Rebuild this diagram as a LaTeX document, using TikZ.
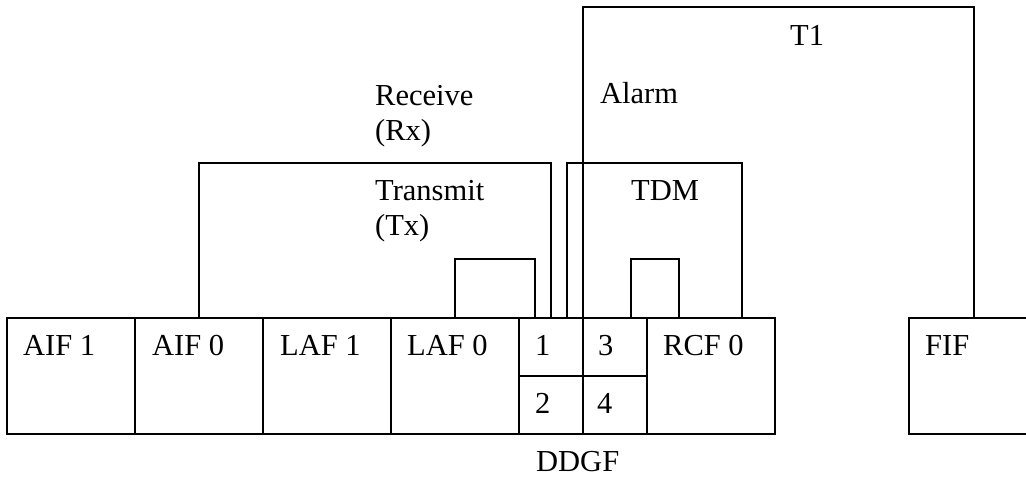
\documentclass[tikz,border=0pt]{standalone}
\usepackage{fontspec}
\setmainfont{Liberation Serif}
\begin{document}
\begin{tikzpicture}[x=1pt,y=-1pt,
  cell/.style={draw, line width=2.2pt, inner sep=0pt, outer sep=0pt, minimum width=128pt, minimum height=116pt},
  small/.style={draw, line width=2.2pt, inner sep=0pt, outer sep=0pt, minimum width=64pt, minimum height=58pt},
  wire/.style={line width=2.2pt},
  lbl/.style={anchor=base west, inner sep=0pt, font=\fontsize{30.5}{34}\selectfont}]
\useasboundingbox (0,0) rectangle (1026,477);
% bottom row
\node[cell] (aif1) at (71,376) {};
\node[cell] (aif0) at (199,376) {};
\node[cell] (laf1) at (327,376) {};
\node[cell] (laf0) at (455,376) {};
\node[small] (b1) at (551,347) {};
\node[small] (b2) at (551,405) {};
\node[small] (b3) at (615,347) {};
\node[small] (b4) at (615,405) {};
\node[cell] (rcf0) at (711,376) {};
\coordinate (fifnw) at (909,318);
\coordinate (fifsw) at (909,434);
\draw[wire] (1030,318) -- (fifnw) -- (fifsw) -- (1030,434);
% labels
\node[lbl] at (23,355) {AIF 1};
\node[lbl] at (152,355) {AIF 0};
\node[lbl] at (280,355) {LAF 1};
\node[lbl] at (407,355) {LAF 0};
\node[lbl] at (535,355) {1};
\node[lbl] at (598,355) {3};
\node[lbl] at (535,413) {2};
\node[lbl] at (597,413) {4};
\node[lbl] at (663,355) {RCF 0};
\node[lbl] at (925,355) {FIF};
\node[lbl] at (536,471) {DDGF};
\node[lbl] at (375,105) {Receive};
\node[lbl] at (375,140) {(Rx)};
\node[lbl] at (375,200) {Transmit};
\node[lbl] at (375,235) {(Tx)};
\node[lbl] at (600,103) {Alarm};
\node[lbl] at (790,45) {T1};
\node[lbl] at (631,200) {TDM};
% connectors
\draw[wire] (aif0.north) -- ++(0,-155) -| (b1.north);
\draw[wire] ([xshift=-16pt]b1.north east) -- ++(0,-155) -| ([xshift=-33pt]rcf0.north east);
\draw[wire] (b1.north east) -- ++(0,-311) -| ([xshift=65pt]fifnw);
\draw[wire] (laf0.north) -- ++(0,-59) -| ([xshift=16pt]b1.north west);
\draw[wire] ([xshift=-16pt]b3.north east) -- ++(0,-59) -| ([xshift=32pt]rcf0.north west);
\end{tikzpicture}
\end{document}
